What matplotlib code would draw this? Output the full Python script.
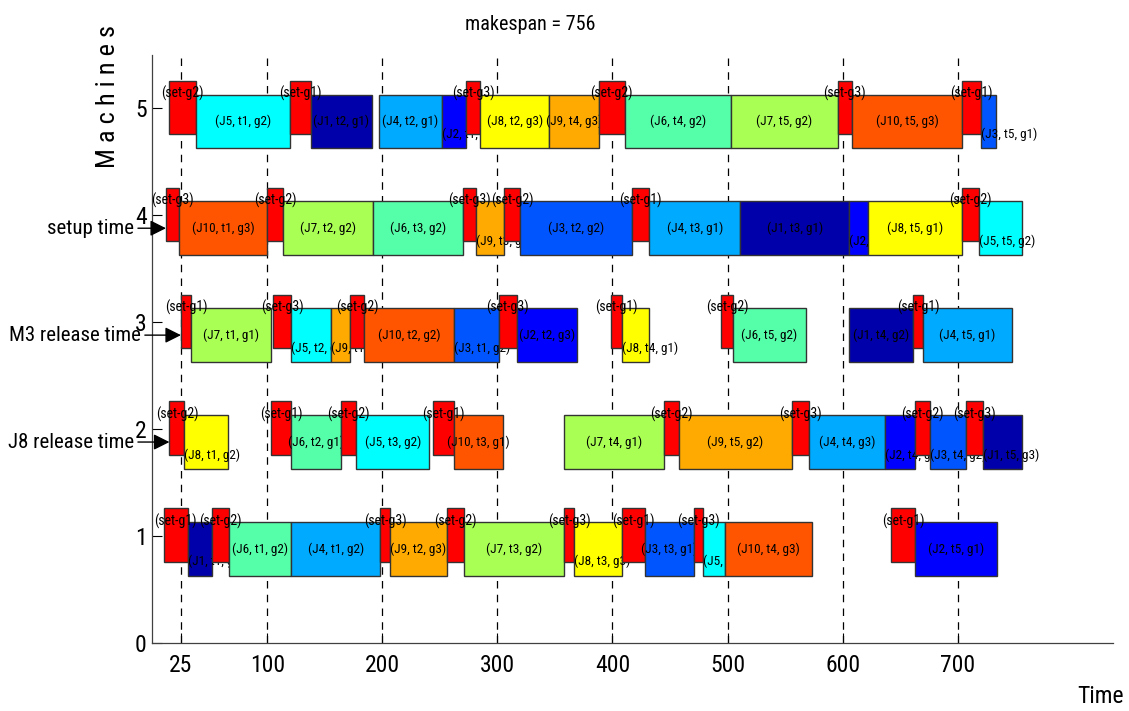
import numpy as np
import matplotlib
matplotlib.use('Agg')
import matplotlib.pyplot as plt
from matplotlib import font_manager
from matplotlib.patches import Rectangle

# each operation: (job, task, group, setup start or None, start, end)
m1_ops = [(1, 1, 1, 10, 31, 52), (6, 1, 2, 52, 67, 121), (4, 1, 2, None, 121, 198),
          (9, 2, 3, 198, 207, 256), (7, 3, 2, 256, 271, 358), (8, 3, 3, 358, 367, 408),
          (3, 3, 1, 408, 428, 471), (5, 4, 3, 471, 479, 498), (10, 4, 3, None, 498, 573),
          (2, 5, 1, 642, 663, 734)]
m2_ops = [(8, 1, 2, 15, 28, 66), (6, 2, 1, 103, 121, 164), (5, 3, 2, 164, 177, 241),
          (10, 3, 1, 244, 262, 305), (7, 4, 1, None, 358, 445), (9, 5, 2, 445, 458, 556),
          (4, 4, 3, 556, 571, 637), (2, 4, 3, None, 637, 663), (3, 4, 2, 663, 676, 707),
          (1, 5, 3, 707, 722, 756)]
m3_ops = [(7, 1, 1, 25, 34, 103), (5, 2, 3, 105, 121, 155), (9, 1, 3, None, 155, 172),
          (10, 2, 2, 172, 184, 262), (3, 1, 2, None, 262, 301), (2, 2, 3, 301, 317, 369),
          (8, 4, 1, 399, 408, 432), (6, 5, 2, 494, 505, 568), (1, 4, 2, None, 606, 661),
          (4, 5, 1, 661, 670, 747)]
m4_ops = [(10, 1, 3, 12, 23, 100), (7, 2, 2, 100, 114, 192), (6, 3, 2, None, 192, 270),
          (9, 3, 3, 270, 281, 306), (3, 2, 2, 306, 320, 417), (4, 3, 1, 417, 432, 511),
          (1, 3, 1, None, 511, 606), (2, 3, 1, None, 606, 622), (8, 5, 1, None, 622, 704),
          (5, 5, 2, 704, 719, 756)]
m5_ops = [(5, 1, 2, 15, 38, 120), (1, 2, 1, 120, 138, 191), (4, 2, 1, None, 197, 252),
          (2, 1, 1, None, 252, 273), (8, 2, 3, 273, 285, 345), (9, 4, 3, None, 345, 388),
          (6, 4, 2, 388, 411, 503), (7, 5, 2, None, 503, 596), (10, 5, 3, 596, 608, 704),
          (3, 5, 1, 704, 720, 733)]

makespan = 756
xtick_vals = [25, 100, 200, 300, 400, 500, 600, 700]
ytick_vals = [0, 1, 2, 3, 4, 5]
notes = ['J8 release time', 'M3 release time', 'setup time']
note_machines = [2, 3, 4]

# MATLAB jet(12) colours for J1..J10, red for setups
job_colors = ['#0000AA', '#0000FF', '#0055FF', '#00AAFF', '#00FFFF',
              '#55FFAA', '#AAFF55', '#FFFF00', '#FFAA00', '#FF5500']
setup_color = '#FF0000'


def pick_font():
    for name in ['Liberation Sans Narrow', 'Roboto Condensed', 'Liberation Sans']:
        try:
            font_manager.findfont(font_manager.FontProperties(family=name),
                                  fallback_to_default=False)
            return name
        except ValueError:
            pass
    return 'DejaVu Sans'


plt.rcParams['font.family'] = [pick_font(), 'DejaVu Sans']

fig = plt.figure(figsize=(11.29, 7.11), dpi=100)
ax = fig.add_axes([0.1348, 0.0956, 0.851, 0.827])
ax.set_xlim(0, 835)
ax.set_ylim(0, 5.5)

for xv in xtick_vals:
    ax.axvline(xv, color='k', ls=(0, (6, 5)), lw=0.9, zorder=1)

all_ops = [m1_ops, m2_ops, m3_ops, m4_ops, m5_ops]
z = 3
for m, ops in enumerate(all_ops, start=1):
    for job, task, grp, s0, st, en in ops:
        if s0 is not None:
            ax.add_patch(Rectangle((s0, m - 0.24), st - s0, 0.5, fc=setup_color,
                                   ec='0.2', lw=1, zorder=z))
        ax.add_patch(Rectangle((st, m - 0.37), en - st, 0.5, fc=job_colors[job - 1],
                               ec='0.2', lw=1, zorder=z + 1))
        if s0 is not None:
            ax.text((s0 + st) / 2, m + 0.14, f'(set-g{grp})', ha='center', va='center',
                    fontsize=10, zorder=z + 2)
        lab = f'(J{job}, t{task}, g{grp})'
        if en - st >= 42:
            ax.text((st + en) / 2, m - 0.12, lab, ha='center', va='center',
                    fontsize=9.5, zorder=z + 3)
        else:
            ax.text(st, m - 0.24, lab, ha='left', va='center', fontsize=9.5, zorder=z + 3)
        z += 4

for txt, m in zip(notes, note_machines):
    first = all_ops[m - 1][0]
    tip = first[3] if first[3] is not None else first[4]
    tx = -10 if m == 3 else -16
    ax.annotate(txt, xy=(tip, m - 0.12), xytext=(tx, m - 0.12), ha='right', va='center',
                fontsize=15, annotation_clip=False, zorder=1000,
                arrowprops=dict(arrowstyle='-|>', color='k', lw=1, mutation_scale=24,
                                shrinkA=1, shrinkB=0))

ax.set_xticks(xtick_vals)
ax.set_yticks(ytick_vals)
ax.tick_params(direction='in', length=7, width=0.8, labelsize=17)
ax.tick_params(axis='x', pad=8)
ax.tick_params(axis='y', pad=4)
for side in ['top', 'right']:
    ax.spines[side].set_visible(False)
for side in ['left', 'bottom']:
    ax.spines[side].set_color('0.25')
    ax.spines[side].set_linewidth(0.9)

fig.text(0.47, 0.965, f'makespan = {makespan}', ha='center', va='center', fontsize=14.5)
fig.text(0.0957, 0.864, 'M a c h i n e s', rotation=90, ha='center', va='center',
         fontsize=19)
fig.text(0.975, 0.02, 'Time', ha='center', va='center', fontsize=17)

fig.savefig('out.png', dpi=100)
